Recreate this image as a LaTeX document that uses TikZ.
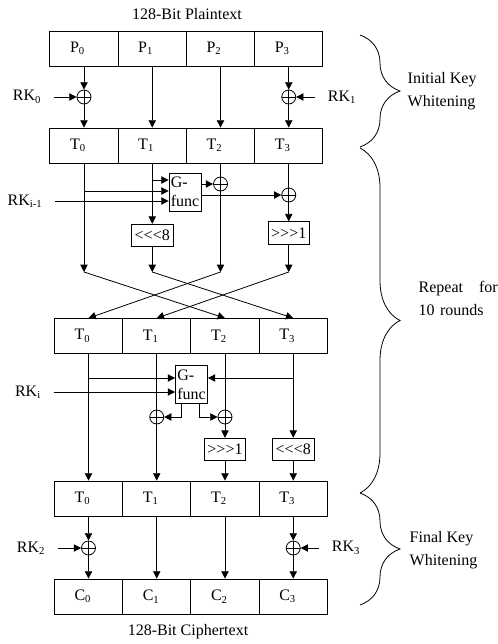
\documentclass[tikz,border=0pt]{standalone}
\usepackage{fontspec}
\setmainfont{Liberation Serif}
\usepackage{tikz}
\usetikzlibrary{
  arrows.meta,
  decorations.pathreplacing,
}
\tikzset{
  >={Triangle[length=5.5pt,width=5.5pt]},
  font=\fontsize{12}{14}\selectfont,
  wire/.style={line width=0.6pt},
  arr/.style={wire, ->},
  keyin/.style={arr, shorten <=6pt},
  cell/.style={
    draw, line width=0.6pt,
    minimum width=51.2pt, minimum height=26.25pt,
    inner sep=0pt, text width=21pt, align=left,
  },
  xor/.style={
    circle, draw, line width=0.6pt,
    minimum size=10.5pt, inner sep=0pt,
    path picture={
      \draw[line width=0.6pt]
        (path picture bounding box.north) -- (path picture bounding box.south)
        (path picture bounding box.west) -- (path picture bounding box.east);
    },
  },
  gbox/.style={draw, line width=0.6pt, minimum width=24pt, minimum height=28.5pt, inner sep=1pt, align=left},
  shiftbox/.style={draw, line width=0.6pt, minimum width=31pt, minimum height=17pt, inner sep=1pt},
  keybrace/.style={decorate, decoration={brace, amplitude=30pt}, line width=0.6pt},
  side/.style={anchor=west, align=left, font=\fontsize{12}{17.5}\selectfont},
}

\begin{document}
\begin{tikzpicture}[x=0.75pt,y=-0.75pt]
  \useasboundingbox (0,0) rectangle (498,644);
  \fill[white] (0,0) rectangle (498,644);

  % plaintext + initial key whitening
  \node (ptxt) at (187,14) {128-Bit Plaintext};
  \foreach \i in {0,...,3} {
    \node[cell] (p\i) at (84+68.25*\i,48.5) {P\textsubscript{\i}};
    \node[cell] (a\i) at (84+68.25*\i,145.5) {T\textsubscript{\i}};
  }
  \node[xor] (k0) at (84,97) {};
  \node[xor] (k1) at (288.75,97) {};
  \node (rk0) at (27,97) {RK\textsubscript{0}};
  \node (rk1) at (342,97) {RK\textsubscript{1}};
  \draw[keyin] (rk0) -- (k0);
  \draw[keyin] (rk1) -- (k1);
  \draw[arr] (p0) -- (k0);
  \draw[arr] (k0) -- (a0);
  \draw[arr] (p1) -- (a1);
  \draw[arr] (p2) -- (a2);
  \draw[arr] (p3) -- (k1);
  \draw[arr] (k1) -- (a3);

  % round i-1
  \node[gbox] (g1) at (185,192) {G-\\func};
  \node (rkA) at (25,201) {RK\textsubscript{i-1}};
  \node[xor] (xa) at (220.5,184) {};
  \node[xor] (xb) at (288.75,195) {};
  \node[shiftbox] (r1) at (152.25,235.5) {<\kern0pt<\kern0pt<8};
  \node[shiftbox] (r3) at (288.75,233) {>\kern0pt>\kern0pt>1};
  \foreach \i in {0,...,3}
    \coordinate (m\i) at (84+68.25*\i,272);

  \draw[arr] (a0) -- (m0);
  \draw[arr] (a0 |- 0,191) -- (g1.west |- 0,191);
  \draw[arr] (a1) -- (r1);
  \draw[arr] (r1) -- (m1);
  \draw[arr] (a1 |- 0,180) -- (g1.west |- 0,180);
  \draw[keyin] (rkA) -- (rkA -| g1.west);
  \draw[wire] (a2) -- (xa);
  \draw[arr] (xa) -- (m2);
  \draw[arr] (g1.east |- xa) -- (xa);
  \draw[wire] (a3) -- (xb);
  \draw[arr] (g1.east |- xb) -- (xb);
  \draw[arr] (xb) -- (r3);
  \draw[arr] (r3) -- (m3);

  % swap halves
  \foreach \i in {0,...,3}
    \node[cell] (b\i) at (88.5+68.25*\i,336) {T\textsubscript{\i}};
  \draw[arr] (m0) -- (b2.north);
  \draw[arr] (m1) -- (b3.north);
  \draw[arr] (m2) -- (b0.north);
  \draw[arr] (m3) -- (b1.north);

  % round i
  \node[gbox] (g2) at (191.5,384.5) {G-\\func};
  \node (rkB) at (28,392) {RK\textsubscript{i}};
  \node[xor] (xc) at (156.75,417) {};
  \node[xor] (xd) at (225,417) {};
  \node[shiftbox] (r6) at (225,449.5) {>\kern0pt>\kern0pt>1};
  \node[shiftbox] (r7) at (293.25,449.5) {<\kern0pt<\kern0pt<8};
  \foreach \i in {0,...,3}
    \node[cell] (c\i) at (88.5+68.25*\i,498.5) {T\textsubscript{\i}};

  \draw[arr] (b0) -- (c0);
  \draw[arr] (b0 |- 0,378) -- (g2.west |- 0,378);
  \draw[keyin] (rkB) -- (rkB -| g2.west);
  \draw[wire] (b1) -- (xc);
  \draw[arr] (xc) -- (c1);
  \draw[arr] ([xshift=4.5pt]g2.south west) |- (xc);
  \draw[arr] ([xshift=-6.75pt]g2.south east) |- (xd);
  \draw[wire] (b2) -- (xd);
  \draw[arr] (xd) -- (r6);
  \draw[arr] (r6) -- (c2);
  \draw[arr] (b3) -- (r7);
  \draw[arr] (r7) -- (c3);
  \draw[arr] (b3 |- 0,378) -- (g2.east |- 0,378);

  % final key whitening + ciphertext
  \node[xor] (xe) at (88.5,548) {};
  \node[xor] (xf) at (293.25,548) {};
  \node (rk2) at (31,548) {RK\textsubscript{2}};
  \node (rk3) at (346,548) {RK\textsubscript{3}};
  \foreach \i in {0,...,3}
    \node[cell] (d\i) at (88.5+68.25*\i,596.5) {C\textsubscript{\i}};
  \node (ctxt) at (188,632) {128-Bit Ciphertext};
  \draw[keyin] (rk2) -- (xe);
  \draw[keyin] (rk3) -- (xf);
  \draw[arr] (c0) -- (xe);
  \draw[arr] (xe) -- (d0);
  \draw[arr] (c1) -- (d1);
  \draw[arr] (c2) -- (d2);
  \draw[arr] (c3) -- (xf);
  \draw[arr] (xf) -- (d3);

  % braces
  \draw[keybrace] (360,35) -- (360,147);
  \draw[keybrace] (360,148) -- (360,493);
  \draw[keybrace] (360,493) -- (360,605);
  \node[side] (init) at (403,91.5) {Initial Key\\Whitening};
  \node[side, text width=59.25pt] (rep) at (414,298.5) {Repeat\hspace{0pt plus 1fill}for\\10 rounds};
  \node[side] (fin) at (405,550) {Final Key\\Whitening};
\end{tikzpicture}
\end{document}
